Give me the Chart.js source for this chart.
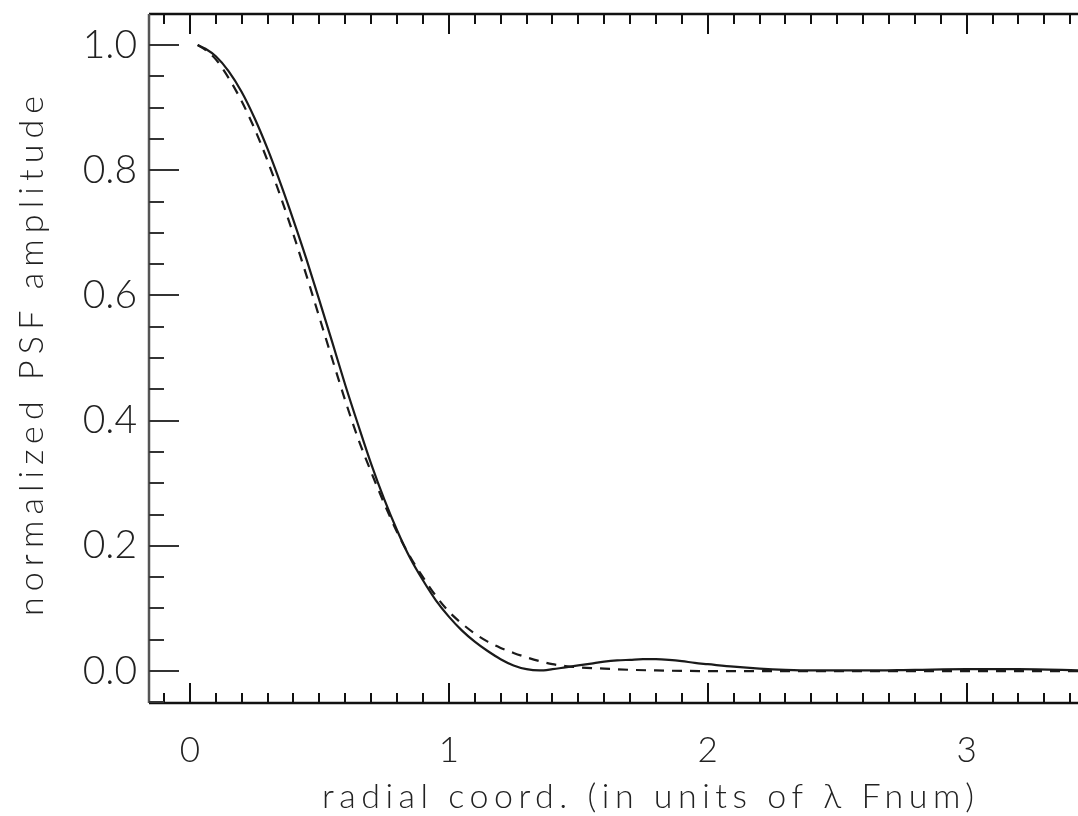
<!DOCTYPE html>
<html><head><meta charset="utf-8">
<script src="https://cdn.jsdelivr.net/npm/chart.js@4.4.1/dist/chart.umd.min.js"></script>
<style>html,body{margin:0;padding:0;background:#fff}#wrap{width:1078px;height:816px}</style>
</head><body><div id="wrap"><canvas id="c" width="1078" height="816"></canvas></div>
<script>
// ---- data ----
const xSolid = [0.03,0.06,0.1,0.15,0.2,0.25,0.3,0.35,0.4,0.45,0.5,0.55,0.6,0.65,0.7,0.75,0.8,0.85,0.9,0.95,1.0,1.05,1.1,1.15,1.2,1.25,1.3,1.35,1.4,1.45,1.5,1.55,1.6,1.65,1.7,1.75,1.8,1.85,1.9,1.95,2.0,2.1,2.2,2.3,2.4,2.5,2.6,2.8,3.0,3.2,3.45];
const ySolid = [1.0,0.994,0.982,0.958,0.925,0.883,0.834,0.779,0.720,0.658,0.592,0.525,0.457,0.393,0.331,0.275,0.225,0.181,0.145,0.113,0.087,0.065,0.047,0.032,0.019,0.009,0.003,0.001,0.003,0.006,0.009,0.012,0.015,0.017,0.018,0.019,0.019,0.018,0.016,0.013,0.011,0.007,0.004,0.002,0.001,0.001,0.001,0.002,0.003,0.003,0.001];
const xDashed = [0.03,0.06,0.1,0.15,0.2,0.25,0.3,0.35,0.4,0.45,0.5,0.55,0.6,0.65,0.7,0.75,0.8,0.85,0.9,0.95,1.0,1.05,1.1,1.15,1.2,1.25,1.3,1.35,1.4,1.45,1.5,1.6,1.7,1.8,2.0,2.5,3.0,3.45];
const yDashed = [1.0,0.992,0.977,0.947,0.910,0.866,0.815,0.758,0.697,0.632,0.565,0.498,0.432,0.371,0.318,0.268,0.222,0.183,0.150,0.120,0.095,0.076,0.060,0.047,0.037,0.029,0.022,0.016,0.011,0.008,0.006,0.004,0.002,0.001,0.0,0.0,0.0,0.0];
const xTickValues = [0, 1, 2, 3];
const yTickValues = [0.0, 0.2, 0.4, 0.6, 0.8, 1.0];
const xTitle = 'radial coord. (in units of \u03BB Fnum)';
const yTitle = 'normalized PSF amplitude';

const FONT = 'Lato, "DejaVu Sans", sans-serif';
const toPts = (xs, ys) => xs.map((v, i) => ({x: v, y: ys[i]}));

const frame = {
  id: 'frame',
  afterDraw(chart) {
    const {ctx, chartArea: a, scales: {x, y}} = chart;
    ctx.save();
    ctx.strokeStyle = '#111'; ctx.lineWidth = 2.5;
    ctx.beginPath();
    ctx.moveTo(a.left, a.top); ctx.lineTo(a.right, a.top);
    ctx.moveTo(a.left, a.bottom); ctx.lineTo(a.right, a.bottom);
    ctx.stroke();
    ctx.strokeStyle = '#555'; ctx.lineWidth = 2.5;
    ctx.beginPath(); ctx.moveTo(a.left, a.top); ctx.lineTo(a.left, a.bottom); ctx.stroke();
    ctx.strokeStyle = '#111'; ctx.lineWidth = 2;
    ctx.beginPath();
    for (let k = Math.ceil(x.min / 0.1); k * 0.1 <= x.max; k++) {
      const px = Math.round(x.getPixelForValue(k * 0.1));
      const len = (k % 10 === 0) ? 20 : 10;
      ctx.moveTo(px, a.bottom); ctx.lineTo(px, a.bottom - len);
      ctx.moveTo(px, a.top); ctx.lineTo(px, a.top + len);
    }
    ctx.stroke();
    ctx.strokeStyle = '#333';
    ctx.beginPath();
    for (let k = Math.ceil(y.min / 0.05); k * 0.05 <= y.max; k++) {
      const py = Math.round(y.getPixelForValue(k * 0.05));
      const len = (k % 4 === 0) ? 30 : 15;
      ctx.moveTo(a.left, py); ctx.lineTo(a.left + len, py);
    }
    ctx.stroke();
    ctx.fillStyle = '#222';
    ctx.font = '300 34px ' + FONT;
    ctx.textAlign = 'left'; ctx.textBaseline = 'alphabetic';
    // fit titles to the widths measured on the reference
    const fitSpacing = (txt, w) => { ctx.letterSpacing = '0px'; const m = ctx.measureText(txt).width; return Math.max(0, (w - m) / (txt.length - 1)); };
    const sx = fitSpacing(xTitle, 652);
    ctx.letterSpacing = sx + 'px';
    ctx.textAlign = 'center';
    ctx.fillText(xTitle, 648 + sx / 2, 808);
    const sy = fitSpacing(yTitle, 520);
    ctx.letterSpacing = sy + 'px';
    ctx.save();
    ctx.translate(43, 356);
    ctx.rotate(-Math.PI / 2);
    ctx.fillText(yTitle, sy / 2, 0);
    ctx.restore();
    ctx.restore();
  }
};

new Chart(document.getElementById('c'), {
  type: 'scatter',
  data: {
    datasets: [
      {data: toPts(xSolid, ySolid), showLine: true, borderColor: '#1a1a1a', borderWidth: 2.2,
       pointRadius: 0, cubicInterpolationMode: 'monotone', fill: false},
      {data: toPts(xDashed, yDashed), showLine: true, borderColor: '#1a1a1a', borderWidth: 2.2,
       borderDash: [10, 8], pointRadius: 0, cubicInterpolationMode: 'monotone', fill: false}
    ]
  },
  options: {
    responsive: false, animation: false, devicePixelRatio: 1,
    layout: {padding: {top: 14, right: 0, left: 0, bottom: 0}},
    plugins: {legend: {display: false}, tooltip: {enabled: false}},
    scales: {
      x: {
        type: 'linear', min: -0.158, max: 3.43,
        afterBuildTicks: s => { s.ticks = xTickValues.map(v => ({value: v})); },
        afterFit: s => { s.height = 113; s.paddingLeft = 0; s.paddingRight = 0; },
        grid: {display: false, drawTicks: false}, border: {display: false},
        ticks: {font: {family: FONT, size: 35, weight: '300'}, color: '#222', padding: 27, maxRotation: 0, autoSkip: false,
                callback: v => String(v)}
      },
      y: {
        type: 'linear', min: -0.051, max: 1.0495,
        afterBuildTicks: s => { s.ticks = yTickValues.map(v => ({value: v})); },
        afterFit: s => { s.width = 149; s.paddingTop = 0; s.paddingBottom = 0; },
        grid: {display: false, drawTicks: false}, border: {display: false},
        ticks: {font: {family: FONT, size: 39, weight: '300'}, color: '#222', padding: 12, autoSkip: false,
                callback: v => Number(v).toFixed(1)}
      }
    }
  },
  plugins: [frame]
});
</script></body></html>
